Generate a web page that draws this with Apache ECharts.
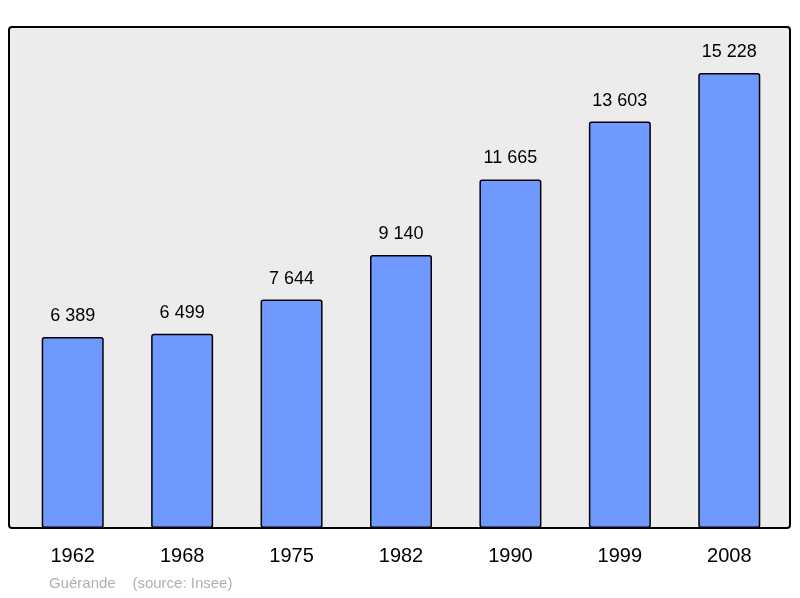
<!DOCTYPE html>
<html>
<head>
<meta charset="utf-8">
<script src="https://cdn.jsdelivr.net/npm/echarts@6/dist/echarts.min.js"></script>
<style>html,body{margin:0;padding:0;background:#fff}#c{width:800px;height:598px}</style>
</head>
<body>
<div id="c"></div>
<script>
var years = ['1962', '1968', '1975', '1982', '1990', '1999', '2008'];
var population = [6389, 6499, 7644, 9140, 11665, 13603, 15228];

function fmt(v) {
    return String(v).replace(/\B(?=(\d{3})+(?!\d))/g, ' ');
}

var myChart = echarts.init(document.getElementById('c'));
var option = {
    animation: false,
    graphic: [
        {
            type: 'rect', z: -10, silent: true,
            shape: {x: 9, y: 27, width: 781, height: 501, r: 3},
            style: {fill: '#ececec', stroke: '#000', lineWidth: 2}
        },
        {
            type: 'text', left: 49, top: 576,
            style: {text: 'Guérande    (source: Insee)', fill: '#b0b0b0', font: '15px "Liberation Sans", Arial, sans-serif'}
        }
    ],
    grid: {left: 18, right: 16, top: 27, bottom: 70},
    xAxis: {
        type: 'category',
        data: years,
        axisLine: {show: false},
        axisTick: {show: false},
        axisLabel: {color: '#000', fontSize: 20, margin: 18, fontFamily: 'Liberation Sans'}
    },
    yAxis: {
        type: 'value', min: 0, max: 16767,
        show: false, splitLine: {show: false}
    },
    series: [{
        type: 'bar',
        data: population,
        barWidth: 62,
        itemStyle: {color: '#7099ff', borderColor: '#000', borderWidth: 1.5, borderRadius: 2},
        label: {
            show: true, position: 'top', distance: 12,
            color: '#000', fontSize: 18, fontFamily: 'Liberation Sans',
            formatter: function (p) { return fmt(p.value); }
        }
    }]
};
myChart.setOption(option);
</script>
</body>
</html>
